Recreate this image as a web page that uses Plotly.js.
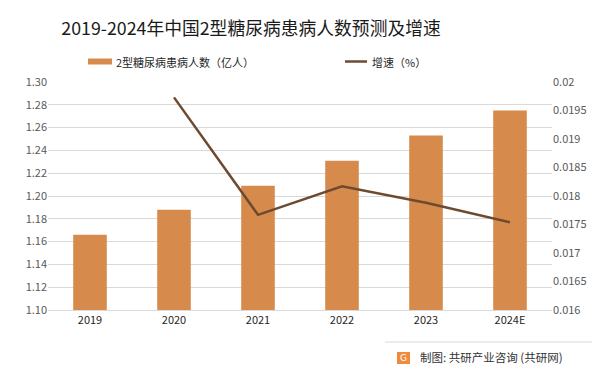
<!DOCTYPE html>
<html><head><meta charset="utf-8">
<script src="https://cdn.plot.ly/plotly-3.0.1.min.js"></script>
<style>html,body{margin:0;padding:0;background:#fff}#c{width:602px;height:374px}</style>
</head><body><div id="c"></div>
<script>
const years = ['2019','2020','2021','2022','2023','2024E'];
const patients = [1.166, 1.188, 1.209, 1.231, 1.253, 1.275];
const growthYears = ['2020','2021','2022','2023','2024E'];
const growth = [0.01973, 0.01767, 0.01817, 0.01788, 0.01754];
const leftTicks = [1.10,1.12,1.14,1.16,1.18,1.20,1.22,1.24,1.26,1.28,1.30];
const rightTicks = [0.016,0.0165,0.017,0.0175,0.018,0.0185,0.019,0.0195,0.02];
const rightTickText = ['0.016','0.0165','0.017','0.0175','0.018','0.0185','0.019','0.0195','0.02'];
const seriesNames = ['2型糖尿病患病人数（亿人）','增速（%）'];

const font = '"Noto Sans CJK SC", "Noto Sans", sans-serif';
const barColor = '#D68B4C', lineColor = '#6E4A30';
const traces = [
  {type:'bar', x:years, y:patients, name:seriesNames[0], marker:{color:barColor}, width:0.4, yaxis:'y'},
  {type:'scatter', mode:'lines', x:growthYears, y:growth, name:seriesNames[1], line:{color:lineColor, width:2.5}, yaxis:'y2'}
];
const px = x => (x-48)/504, py = y => (310-y)/228;
const layout = {
  width:602, height:374,
  margin:{l:48, r:50, t:82, b:64},
  paper_bgcolor:'#fff', plot_bgcolor:'#fff',
  font:{family:font, color:'#595959', size:11},
  title:{text:'2019-2024年中国2型糖尿病患病人数预测及增速', x:0.417, xanchor:'center', y:0.923, yanchor:'middle', font:{family:font, size:17.8, color:'#1a1a1a'}},
  showlegend:false,
  xaxis:{type:'category', categoryarray:years, showgrid:false, showline:true, linecolor:'#d9d9d9', ticks:'', tickfont:{size:11, color:'#262626'}},
  yaxis:{range:[1.10,1.30], tickvals:leftTicks, ticktext:leftTicks.map(v=>v.toFixed(2)), gridcolor:'#d9d9d9', zeroline:false, showline:false, ticks:'', tickfont:{size:11,color:'#595959'}},
  yaxis2:{overlaying:'y', side:'right', range:[0.016,0.02], tickvals:rightTicks, ticktext:rightTickText, showgrid:false, zeroline:false, showline:false, ticks:'', tickfont:{size:11,color:'#595959'}},
  shapes:[
    {type:'rect', xref:'paper', yref:'paper', x0:px(88), x1:px(112), y0:py(58.5), y1:py(64.5), fillcolor:barColor, line:{width:0}},
    {type:'line', xref:'paper', yref:'paper', x0:px(345), x1:px(367), y0:py(61.5), y1:py(61.5), line:{color:lineColor, width:2.5}},
    {type:'line', xref:'paper', yref:'paper', x0:px(385), x1:px(592), y0:py(342), y1:py(342), line:{color:'#d9d9d9', width:1}},
    {type:'rect', xref:'paper', yref:'paper', x0:px(397), x1:px(410), y0:py(352), y1:py(364), fillcolor:'#F08A3C', line:{width:0}}
  ],
  annotations:[
    {xref:'paper', yref:'paper', x:px(114), y:py(61.5), xanchor:'left', yanchor:'middle', text:seriesNames[0], showarrow:false, font:{size:11, color:'#262626'}},
    {xref:'paper', yref:'paper', x:px(370), y:py(61.5), xanchor:'left', yanchor:'middle', text:seriesNames[1], showarrow:false, font:{size:11, color:'#262626'}},
    {xref:'paper', yref:'paper', x:px(418), y:py(357), xanchor:'left', yanchor:'middle', text:'制图: 共研产业咨询 (共研网)', showarrow:false, font:{size:11.5, color:'#333'}},
    {xref:'paper', yref:'paper', x:px(403.5), y:py(358), xanchor:'center', yanchor:'middle', text:'G', showarrow:false, font:{size:9, color:'#fff', family:'DejaVu Sans'}}
  ]
};
Plotly.newPlot('c', traces, layout, {displayModeBar:false, staticPlot:true});
</script></body></html>
